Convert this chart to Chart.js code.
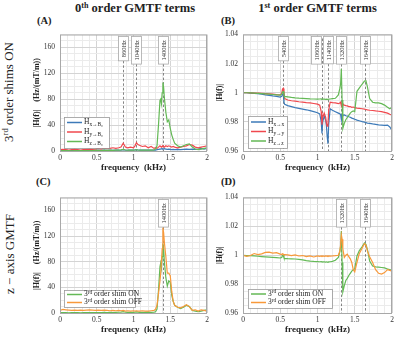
<!DOCTYPE html>
<html>
<head>
<meta charset="utf-8">
<script src="https://cdn.jsdelivr.net/npm/chart.js@4.4.1/dist/chart.umd.min.js"></script>
<style>
  html, body { margin: 0; padding: 0; background: #fff; }
  #wrap { position: relative; width: 400px; height: 337px; overflow: hidden; font-family: "Liberation Serif", "DejaVu Serif", serif; color: #222; }
  canvas { position: absolute; }
  .t { position: absolute; white-space: nowrap; }
  .rot { position: absolute; white-space: nowrap; transform: translate(-50%, -50%) rotate(-90deg); }
  sup { font-size: 65%; vertical-align: 0; position: relative; top: -0.55em; }
</style>
</head>
<body>
<div id="wrap">
  <div class="t" style="left:55px;width:160px;top:1px;text-align:center;font-weight:bold;font-size:12.5px;">0<sup>th</sup> order GMTF terms</div>
  <div class="t" style="left:238px;width:159px;top:1px;text-align:center;font-weight:bold;font-size:12.5px;">1<sup>st</sup> order GMTF terms</div>
  <div class="t" style="left:37px;top:15px;font-weight:bold;font-size:10.5px;">(A)</div>
  <div class="t" style="left:221px;top:15px;font-weight:bold;font-size:10.5px;">(B)</div>
  <div class="t" style="left:36px;top:176px;font-weight:bold;font-size:10.5px;">(C)</div>
  <div class="t" style="left:221px;top:176px;font-weight:bold;font-size:10.5px;">(D)</div>
  <div class="rot" style="left:9px;top:92px;font-size:13px;">3<sup>rd</sup> order shims ON</div>
  <div class="rot" style="left:10px;top:254px;font-size:13px;">z &minus; axis GMTF</div>
  <canvas id="cA" width="200" height="152" style="left:15px;top:25px;"></canvas>
  <canvas id="cB" width="202" height="152" style="left:198px;top:25px;"></canvas>
  <canvas id="cC" width="200" height="151" style="left:15px;top:188px;"></canvas>
  <canvas id="cD" width="202" height="151" style="left:198px;top:188px;"></canvas>
</div>
<script>
// ---------------- DATA ----------------
// Panel A / C frequency grid (kHz)
const freqA = [0,0.04,0.08,0.12,0.16,0.2,0.24,0.28,0.32,0.36,
  0.4,0.44,0.48,0.52,0.56,0.6,0.64,0.68,0.72,0.76,
  0.8,0.83,0.86,0.89,0.92,0.96,1.0,1.02,1.04,1.06,
  1.08,1.12,1.16,1.2,1.24,1.28,1.3,1.32,1.34,1.36,
  1.37,1.38,1.39,1.4,1.41,1.42,1.44,1.46,1.48,1.5,
  1.52,1.54,1.56,1.6,1.64,1.68,1.72,1.76,1.8,1.84,
  1.88,1.92,1.96,2.0];
// Panel A: 0th order terms |H(f)| (Hz/(mT/m))
const hxB0 = [0.5,0.5,0.8,0.5,0.6,0.8,0.6,0.5,0.8,1.0,
  0.8,0.6,1.0,1.2,1.0,1.3,1.0,1.2,1.0,1.4,
  1.2,1.5,2.0,1.5,1.2,1.5,1.2,1.6,2.0,1.5,
  1.3,1.5,1.2,1.5,1.2,1.5,1.4,2.0,2.5,3.0,
  3.0,3.5,3.0,3.5,3.0,3.5,3.0,2.5,3.0,2.5,
  2.0,2.5,2.0,2.5,2.0,2.5,3.0,2.5,3.0,2.5,
  3.0,4.0,3.0,4.0];
const hyB0 = [2,2.5,2,1.5,2,2.5,2,1.5,2,2.5,
  3,2.5,3,4,3,4.5,3.5,4,5,4,
  5,6,12,6,5,6,5,8,13,10,
  9,7,8,5,7,4,5,4,6,8,
  7,6,7,8,7,6,8,7,8,7,
  6,7,6,5,6,7,8,10,9,6,
  5,6,7,8];
const hzB0 = [0.5,0.5,0.6,0.5,0.4,0.5,0.6,0.5,0.7,0.6,
  0.8,0.6,0.9,1.0,0.8,1.2,1.0,1.2,1.0,1.3,
  1.5,1.8,2.5,1.5,1.2,1.4,1.2,1.5,2.0,1.5,
  1.2,1.4,1.2,1.5,1.3,1.5,3,8,40,78,
  80,73,90,106,98,82,60,45,48,35,
  25,18,12,8,6,8,10,11,6,3,
  2,3,4,5];
// Panel C: z-axis 0th order, shim ON / OFF
const zShimOn0 = [0.5,0.6,0.5,0.4,0.5,0.6,0.5,0.4,0.6,0.5,
  0.6,0.5,0.7,0.8,0.6,0.9,0.8,1.0,0.8,1.0,
  1.2,1.4,2.0,1.2,1.0,1.2,1.0,1.3,1.8,1.3,
  1.0,1.2,1.0,1.3,1.1,1.4,2,6,35,72,
  78,70,88,108,100,80,55,42,50,48,
  28,18,12,9,7,9,12,10,4,3,
  2,3,4,5];
const zShimOff0 = [4,5.5,5,4.5,4,4.5,4,4.5,4,4.5,
  5,4.5,4,4.5,4,4.5,4,3.5,4,3.5,
  4,3.5,4,3,3.5,3,3.5,3,3.5,3,
  3,3.5,3,3,3.5,4,6,12,30,50,
  62,80,100,133,125,110,88,62,62,58,
  34,18,12,9,8,10,13,10,4,5,
  3,5,4,3];
// Panel B / D frequency grid (kHz)
const freqB = [0,0.05,0.1,0.15,0.2,0.25,0.3,0.35,0.4,0.45,
  0.5,0.52,0.53,0.54,0.55,0.56,0.6,0.65,0.7,0.75,
  0.8,0.85,0.9,0.95,1.0,1.03,1.05,1.06,1.07,1.09,
  1.11,1.12,1.13,1.14,1.15,1.17,1.2,1.24,1.28,1.3,
  1.31,1.32,1.33,1.34,1.36,1.38,1.4,1.42,1.44,1.46,
  1.48,1.5,1.53,1.56,1.6,1.63,1.65,1.67,1.7,1.74,
  1.78,1.82,1.86,1.9,1.94,1.97,2.0];
// Panel B: 1st order terms |H(f)|
const hxx = [1.0000,1.0000,0.9998,0.9996,0.9993,0.9990,0.9985,0.9982,0.9978,0.9975,
  0.9970,0.9975,0.9990,0.9995,0.9935,0.9920,0.9912,0.9905,0.9898,0.9893,
  0.9888,0.9883,0.9877,0.9870,0.9863,0.9855,0.9800,0.9720,0.9800,0.9840,
  0.9810,0.9770,0.9700,0.9650,0.9780,0.9890,0.9880,0.9870,0.9860,0.9855,
  0.9850,0.9815,0.9850,0.9845,0.9848,0.9842,0.9840,0.9835,0.9832,0.9826,
  0.9822,0.9818,0.9812,0.9808,0.9802,0.9798,0.9795,0.9792,0.9790,0.9786,
  0.9783,0.9780,0.9778,0.9776,0.9778,0.9765,0.9742];
const hyy = [1.0000,1.0000,0.9999,0.9998,0.9997,0.9996,0.9994,0.9992,0.9990,0.9987,
  0.9985,0.9995,1.0025,1.0030,0.9990,0.9960,0.9950,0.9945,0.9942,0.9938,
  0.9935,0.9932,0.9930,0.9926,0.9922,0.9915,0.9870,0.9780,0.9830,0.9860,
  0.9830,0.9790,0.9770,0.9780,0.9880,0.9935,0.9932,0.9930,0.9925,0.9930,
  0.9935,0.9910,0.9930,0.9920,0.9915,0.9912,0.9910,0.9905,0.9905,0.9900,
  0.9902,0.9898,0.9895,0.9893,0.9890,0.9888,0.9885,0.9882,0.9880,0.9878,
  0.9875,0.9873,0.9870,0.9865,0.9860,0.9852,0.9845];
const hzz = [1.0000,1.0000,0.9999,0.9998,0.9996,0.9994,0.9992,0.9990,0.9988,0.9986,
  0.9984,0.9990,1.0005,1.0008,0.9985,0.9975,0.9972,0.9968,0.9965,0.9963,
  0.9962,0.9960,0.9958,0.9957,0.9956,0.9957,0.9958,0.9955,0.9957,0.9956,
  0.9955,0.9956,0.9955,0.9954,0.9956,0.9957,0.9960,0.9962,0.9985,1.0030,
  1.0060,1.0165,0.9950,0.9755,0.9790,0.9815,0.9830,0.9845,0.9860,0.9870,
  0.9875,0.9870,1.0010,1.0032,1.0060,1.0080,1.0083,1.0040,0.9960,0.9935,
  0.9930,0.9930,0.9925,0.9915,0.9900,0.9890,0.9900];
// Panel D: z-axis 1st order, shim ON / OFF
const zShimOn1 = [1.0000,0.9998,0.9997,0.9995,0.9993,0.9991,0.9989,0.9987,0.9985,0.9983,
  0.9981,0.9985,0.9998,1.0000,0.9982,0.9978,0.9976,0.9975,0.9974,0.9972,
  0.9968,0.9963,0.9959,0.9957,0.9956,0.9955,0.9956,0.9954,0.9955,0.9954,
  0.9953,0.9954,0.9953,0.9952,0.9954,0.9955,0.9958,0.9965,0.9985,1.0025,
  1.0060,1.0168,0.9950,0.9746,0.9790,0.9825,0.9840,0.9860,0.9875,0.9890,
  0.9900,0.9905,0.9995,1.0030,1.0060,1.0085,1.0075,1.0040,0.9960,0.9925,
  0.9920,0.9918,0.9915,0.9912,0.9905,0.9900,0.9895];
const zShimOff1 = [1.0000,0.9992,0.9998,1.0012,1.0005,1.0010,1.0020,1.0022,1.0015,1.0018,
  1.0008,1.0005,1.0010,1.0008,1.0003,1.0005,1.0002,0.9998,1.0002,0.9995,
  0.9998,0.9990,0.9995,0.9988,0.9995,0.9992,0.9996,0.9993,0.9995,0.9992,
  0.9996,0.9994,0.9995,0.9993,0.9996,0.9994,0.9995,0.9997,1.0000,1.0030,
  1.0070,1.0140,1.0110,1.0045,0.9985,1.0000,1.0008,0.9990,0.9975,0.9950,
  0.9900,0.9885,0.9950,1.0010,1.0050,1.0080,1.0070,1.0030,0.9990,0.9950,
  0.9900,0.9875,0.9870,0.9880,0.9900,0.9895,0.9890];
// Marked resonance frequencies (Hz)
const markersA = [860, 1040, 1400];
const markersB = [540, 1060, 1140, 1320, 1640];
const markersC = [1400];
const markersD = [1320, 1640];
// Tick labels
const xTickLabels = [0, 0.5, 1, 1.5, 2];
const yTicks0 = [0, 40, 80, 120, 160];
const yTicks1 = [0.96, 0.98, 1, 1.02, 1.04];
// Series labels
const labelsA = ['H_{x→B₀}', 'H_{y→B₀}', 'H_{z→B₀}'];
const labelsB = ['H_{x→x}', 'H_{y→y}', 'H_{z→z}'];
const labelsCD = ['3^{rd} order shim ON', '3^{rd} order shim OFF'];

// ---------------- STYLE ----------------
const FONT = '"Liberation Serif", "DejaVu Serif", serif';
const C_BLUE = '#3d7ab8', C_RED = '#f0484e', C_GREEN = '#64b956', C_ORANGE = '#f8993a';

function drawRich(ctx, text, x, y, size) {
  const parts = text.split(/(_\{[^}]*\}|\^\{[^}]*\})/).filter(s => s);
  for (const p of parts) {
    let t = p, sz = size, dy = 0;
    if (p.startsWith('_{')) { t = p.slice(2, -1); sz = size * 0.72; dy = size * 0.28; }
    else if (p.startsWith('^{')) { t = p.slice(2, -1); sz = size * 0.72; dy = -size * 0.3; }
    ctx.font = sz + 'px ' + FONT;
    ctx.fillText(t, x, y + dy);
    x += ctx.measureText(t).width;
  }
}

const panelPlugin = {
  id: 'panelDeco',
  beforeDatasetsDraw(chart) {
    const o = chart.options.plugins.panelDeco;
    const {ctx, chartArea: a} = chart;
    const xs = chart.scales.x;
    ctx.save();
    ctx.font = '6.5px ' + FONT;
    o.markers.forEach((f, idx) => {
      const px = Math.round(xs.getPixelForValue(f / 1000)) + 0.5;
      const shift = (o.boxShift && o.boxShift[idx]) || 0;
      const txt = f + 'Hz';
      const tw = ctx.measureText(txt).width;
      const bh = tw + 7, bw = 10;
      const top = a.top + 2;
      const cx = px + shift;
      ctx.setLineDash([2.5, 2]);
      ctx.strokeStyle = '#666';
      ctx.lineWidth = 0.8;
      ctx.beginPath();
      ctx.moveTo(px, shift ? top + 2 : top + bh);
      ctx.lineTo(px, a.bottom);
      ctx.stroke();
      ctx.setLineDash([]);
      ctx.fillStyle = '#fff';
      ctx.fillRect(cx - bw / 2, top, bw, bh);
      ctx.strokeStyle = '#aaa';
      ctx.strokeRect(cx - bw / 2, top, bw, bh);
      ctx.save();
      ctx.translate(cx, top + bh / 2);
      ctx.rotate(-Math.PI / 2);
      ctx.fillStyle = '#333';
      ctx.textAlign = 'center';
      ctx.textBaseline = 'middle';
      ctx.fillText(txt, 0, 0.5);
      ctx.restore();
    });
    ctx.restore();
  },
  afterDraw(chart) {
    const o = chart.options.plugins.panelDeco;
    const {ctx, chartArea: a} = chart;
    ctx.save();
    ctx.strokeStyle = '#a8a8a8';
    ctx.lineWidth = 1;
    ctx.strokeRect(a.left + 0.5, a.top + 0.5, a.right - a.left - 1, a.bottom - a.top);
    // legend
    const lg = o.legend;
    const bx = a.left + lg.dx, by = a.bottom - lg.dy - lg.h;
    ctx.fillStyle = '#fff';
    ctx.fillRect(bx, by, lg.w, lg.h);
    ctx.strokeStyle = '#999';
    ctx.lineWidth = 0.8;
    ctx.strokeRect(bx + 0.5, by + 0.5, lg.w, lg.h);
    chart.data.datasets.forEach((ds, i) => {
      const yy = by + lg.first + i * lg.row;
      ctx.strokeStyle = ds.borderColor;
      ctx.lineWidth = 1.5;
      ctx.beginPath();
      ctx.moveTo(bx + 3, yy);
      ctx.lineTo(bx + 18, yy);
      ctx.stroke();
      ctx.fillStyle = '#222';
      ctx.textBaseline = 'middle';
      ctx.textAlign = 'left';
      drawRich(ctx, ds.label, bx + 20, yy, 7.5);
    });
    ctx.restore();
  }
};

function isMult(v, step) { return Math.abs(v / step - Math.round(v / step)) < 1e-6; }

function makePanel(id, series, labels, colors, yCfg, markers, boxShift, legend, orders) {
  const datasets = series.map((s, i) => ({
    label: labels[i],
    data: s.x.map((f, k) => ({x: f, y: s.y[k]})),
    borderColor: colors[i],
    backgroundColor: colors[i],
    borderWidth: 1.2,
    pointRadius: 0,
    tension: 0,
    order: orders ? orders[i] : i
  }));
  const gridColor = (step) => (c) => isMult(c.tick.value, step) ? '#d4d4d4' : '#ebebeb';
  new Chart(document.getElementById(id), {
    type: 'line',
    data: { datasets },
    plugins: [panelPlugin],
    options: {
      responsive: false,
      animation: false,
      devicePixelRatio: 1,
      layout: { padding: { top: 8, right: 8, left: 0, bottom: 0 } },
      plugins: {
        legend: { display: false },
        tooltip: { enabled: false },
        panelDeco: { markers, boxShift, legend }
      },
      scales: {
        x: {
          type: 'linear', min: 0, max: 2,
          afterFit(s) { s.height = 26; },
          afterBuildTicks(s) { s.ticks = []; for (let k = 0; k <= 20; k++) s.ticks.push({value: k / 10}); },
          border: { display: false },
          grid: { color: gridColor(0.5), lineWidth: 1, drawTicks: false },
          ticks: {
            autoSkip: false, maxRotation: 0, padding: 3,
            font: { family: FONT, size: 7.5 }, color: '#333',
            callback: (v) => xTickLabels.find(t => Math.abs(t - v) < 1e-6) !== undefined ? String(+v.toFixed(1)) : ''
          },
          title: { display: true, text: 'frequency  (kHz)', font: { family: FONT, size: 9, weight: 'bold' }, color: '#222', padding: { top: 0, bottom: 3.6 } }
        },
        y: {
          type: 'linear', min: yCfg.min, max: yCfg.max,
          afterFit(s) { s.width = 45; },
          afterBuildTicks(s) {
            s.ticks = [];
            const n = Math.round((yCfg.max - yCfg.min) / yCfg.minor);
            for (let k = 0; k <= n; k++) s.ticks.push({value: yCfg.min + k * yCfg.minor});
          },
          border: { display: false },
          grid: { color: gridColor(yCfg.major), lineWidth: 1, drawTicks: false },
          ticks: {
            autoSkip: false, padding: 5,
            font: { family: FONT, size: 7.5 }, color: '#333',
            callback: (v) => {
              const m = yCfg.labels.find(t => Math.abs(t - v) < 1e-7);
              return m !== undefined ? String(m) : '';
            }
          },
          title: { display: true, text: yCfg.title, font: { family: FONT, size: 8, weight: 'bold' }, color: '#222', padding: { top: 17.5, bottom: 0 } }
        }
      }
    }
  });
}

const y0 = { min: 0, max: 180, minor: 10, major: 40, labels: yTicks0, title: '|H(f)|    (Hz/(mT/m))' };
const y1 = { min: 0.96, max: 1.04, minor: 0.005, major: 0.02, labels: yTicks1, title: '|H(f)|' };

makePanel('cA',
  [{x: freqA, y: hxB0}, {x: freqA, y: hyB0}, {x: freqA, y: hzB0}],
  labelsA, [C_BLUE, C_RED, C_GREEN], y0, markersA, null,
  { dx: 4, dy: 3, w: 45, h: 31, first: 5.5, row: 9.5 }, [2, 1, 0]);
makePanel('cB',
  [{x: freqB, y: hxx}, {x: freqB, y: hyy}, {x: freqB, y: hzz}],
  labelsB, [C_BLUE, C_RED, C_GREEN], y1, markersB, [0, -6, 0, 0, 0],
  { dx: 5, dy: 3, w: 39, h: 32, first: 6, row: 9.5 }, [2, 1, 0]);
makePanel('cC',
  [{x: freqA, y: zShimOn0}, {x: freqA, y: zShimOff0}],
  labelsCD, [C_GREEN, C_ORANGE], y0, markersC, null,
  { dx: 4, dy: 6, w: 71, h: 17, first: 4.5, row: 8 }, [1, 0]);
makePanel('cD',
  [{x: freqB, y: zShimOn1}, {x: freqB, y: zShimOff1}],
  labelsCD, [C_GREEN, C_ORANGE], y1, markersD, null,
  { dx: 5, dy: 5, w: 84, h: 19, first: 5, row: 8.5 }, [1, 0]);
</script>
</body>
</html>
